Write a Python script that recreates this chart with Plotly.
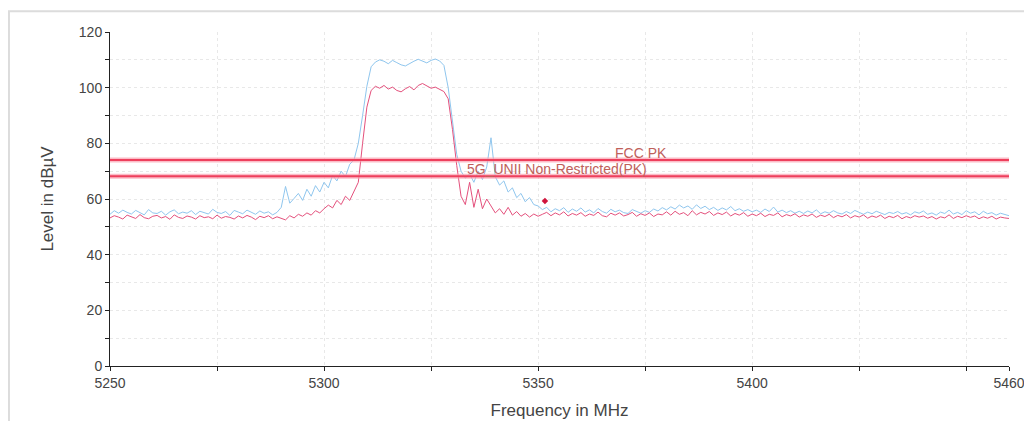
import plotly.graph_objects as go

freq_start = 5250
freq_step = 1.0

peak_values = [
    54.5,55.8,54.9,56.0,55.2,54.6,55.9,55.1,54.3,56.2,55.0,54.8,55.6,54.2,55.4,56.1,54.7,55.3,54.9,55.8,
    54.4,55.6,55.0,54.6,56.3,55.2,54.8,55.5,54.1,55.9,55.3,54.7,56.0,55.1,54.5,55.7,54.9,55.4,54.3,55.2,
    57.0,64.5,58.5,60.2,62.0,59.5,63.5,61.0,64.8,62.5,
    66.0,64.0,68.5,66.5,70.0,68.0,72.5,74.0,
    80.0,90.0,100.5,107.5,
    109.2,110.0,109.5,108.6,109.8,109.0,108.2,107.8,108.8,109.5,110.2,109.4,108.9,109.8,110.3,109.6,108.0,
    100.0,88.0,76.0,70.0,67.5,69.0,66.0,70.0,67.0,71.5,82.0,68.0,65.0,66.5,62.5,64.0,60.5,62.0,59.0,60.5,58.0,57.5,
    56.2,57.0,55.4,56.5,55.8,56.9,55.2,56.4,55.6,56.8,
    55.3,56.1,55.0,56.6,55.5,54.9,56.3,55.4,56.0,55.1,
    54.8,56.2,55.6,54.9,55.8,55.2,56.4,55.7,56.9,56.1,
    57.2,56.4,57.8,56.8,57.5,56.3,57.9,56.6,57.4,56.2,
    57.0,55.9,56.8,56.1,57.3,55.8,56.5,55.6,56.2,55.4,
    56.0,55.2,56.4,55.5,57.1,55.3,56.0,55.1,55.8,54.9,
    55.6,54.8,55.7,55.0,56.1,54.7,55.4,54.9,55.8,55.0,
    54.6,55.5,54.8,55.9,55.2,54.5,55.3,54.7,55.6,55.0,
    54.4,55.2,54.8,55.5,54.6,55.1,54.3,55.4,54.9,55.7,
    54.5,55.0,54.2,55.3,54.8,56.0,54.6,55.2,54.4,55.8,
    54.9,55.4,54.3,55.6,54.7,55.1,54.2,54.9,54.5,54.0,
]

avg_values = [
    53.2,54.0,53.5,52.8,54.2,53.6,53.0,54.4,53.3,52.9,53.8,54.1,53.2,53.7,52.7,54.3,53.4,53.0,53.9,53.5,
    52.8,54.0,53.3,53.6,52.9,54.2,53.1,53.7,53.4,52.8,53.9,53.2,54.1,53.5,52.6,53.8,53.3,54.0,52.9,53.6,
    53.0,52.5,54.0,53.2,54.5,53.8,55.0,54.2,55.8,55.0,
    56.5,57.8,56.8,59.5,58.0,61.0,59.5,62.5,
    66.0,80.0,93.0,99.0,
    100.5,99.8,100.8,99.5,100.2,99.0,98.5,99.6,100.4,99.2,100.8,101.5,100.6,99.8,100.2,99.4,98.6,
    96.0,85.0,72.0,61.0,58.0,66.0,57.0,63.5,56.5,60.0,57.5,55.0,56.5,54.5,57.0,54.2,55.5,53.8,54.8,53.5,54.6,53.8,
    54.5,55.2,54.0,55.0,54.3,55.4,53.9,54.8,54.2,55.1,
    53.8,54.6,54.1,55.3,54.0,53.6,54.9,54.2,55.0,53.9,
    54.4,55.2,53.8,54.7,54.1,55.0,53.7,54.6,54.3,55.4,
    54.2,55.6,54.5,55.1,54.0,55.8,54.3,55.2,54.6,55.5,
    54.1,55.0,54.4,55.3,53.9,54.8,54.2,55.1,53.8,54.6,
    54.0,54.9,53.7,54.5,54.1,55.0,53.6,54.4,53.9,54.7,
    53.5,54.3,53.8,54.6,53.4,54.2,53.7,54.5,53.3,54.1,
    53.6,54.4,53.2,54.0,53.5,54.3,53.1,53.9,53.4,54.2,
    53.0,53.8,53.3,54.1,52.9,53.7,53.2,54.0,53.5,53.9,
    53.1,53.7,52.8,53.6,53.2,54.3,53.0,53.8,53.3,54.0,
    53.4,53.9,52.9,53.6,53.1,53.8,52.8,53.5,53.2,53.0,
]

limit_names = ["FCC PK", "5G_UNII Non-Restricted(PK)"]
limit_levels = [74.0, 68.2]
limit_label_freq = [5374, 5354.5]

marker_freq = [5351.6]
marker_level = [59.3]

x_range = [5250, 5460]
x_tickvals = [5250, 5275, 5300, 5325, 5350, 5375, 5400, 5425, 5450, 5460]
x_ticktext = ["5250", "", "5300", "", "5350", "", "5400", "", "", "5460"]
y_tickvals = [0, 10, 20, 30, 40, 50, 60, 70, 80, 90, 100, 110, 120]
y_ticktext = ["0", "", "20", "", "40", "", "60", "", "80", "", "100", "", "120"]

freqs = [freq_start + i * freq_step for i in range(len(peak_values))]

fig = go.Figure()

fig.add_trace(go.Scatter(x=freqs, y=peak_values, mode="lines",
                         line=dict(color="#8fc6ee", width=1), showlegend=False))
fig.add_trace(go.Scatter(x=freqs, y=avg_values, mode="lines",
                         line=dict(color="#e4507c", width=1), showlegend=False))

for name, lvl, lf in zip(limit_names, limit_levels, limit_label_freq):
    fig.add_trace(go.Scatter(x=x_range, y=[lvl, lvl], mode="lines",
                             line=dict(color="rgba(250,160,175,0.7)", width=5), showlegend=False))
    fig.add_trace(go.Scatter(x=x_range, y=[lvl, lvl], mode="lines",
                             line=dict(color="#ee3f5c", width=2), showlegend=False))
    fig.add_annotation(x=lf, y=lvl, text=name, showarrow=False, yanchor="bottom", yshift=-3,
                       font=dict(family="Liberation Sans", size=14, color="#c0605a"))

fig.add_trace(go.Scatter(x=marker_freq, y=marker_level, mode="markers",
                         marker=dict(color="#d0143c", size=5, symbol="diamond"), showlegend=False))

fig.update_layout(
    width=1032, height=421,
    margin=dict(l=102, r=31, t=24, b=52),
    paper_bgcolor="white", plot_bgcolor="white",
    font=dict(family="Liberation Sans", size=14, color="#444444"),
    shapes=[dict(type="rect", xref="paper", yref="paper", x0=-0.1124, x1=1.08, y0=-0.25, y1=1.062,
                 line=dict(color="#dcdcdc", width=2), layer="below")],
)
fig.update_xaxes(range=x_range, tickvals=x_tickvals, ticktext=x_ticktext,
                 showline=True, linecolor="#222222", linewidth=1,
                 ticks="outside", ticklen=4, tickcolor="#222222",
                 showgrid=True, gridcolor="#e8e8e8", griddash="dot", zeroline=False,
                 title=dict(text="Frequency in MHz", standoff=14))
fig.update_yaxes(range=[0, 120], tickvals=y_tickvals, ticktext=y_ticktext,
                 showline=True, linecolor="#222222", linewidth=1,
                 ticks="outside", ticklen=4, tickcolor="#222222",
                 showgrid=True, gridcolor="#e8e8e8", griddash="dot", zeroline=False,
                 title=dict(text="Level in dBµV", standoff=20))

fig.write_html("out.html")
